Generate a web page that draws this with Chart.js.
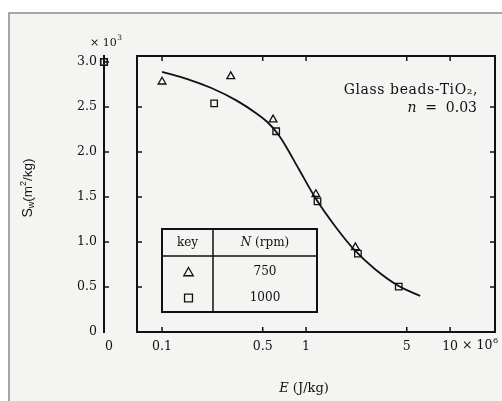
<!DOCTYPE html>
<html>
<head>
<meta charset="utf-8">
<script src="https://cdn.jsdelivr.net/npm/chart.js@4/dist/chart.umd.min.js"></script>
<style>
  html, body { margin: 0; padding: 0; background: #ffffff; }
  #wrap { width: 502px; height: 401px; }
</style>
</head>
<body>
<div id="wrap"><canvas id="c" width="502" height="401"></canvas></div>
<script>
// ---- data (E in J/kg x10^6 on log axis, Sw in m2/kg x10^3) ----
const triE = [0.1, 0.30, 0.59, 1.17, 2.2];
const triS = [2.78, 2.84, 2.36, 1.53, 0.94];
const sqE = [0.23, 0.62, 1.2, 2.29, 4.4];
const sqS = [2.54, 2.23, 1.45, 0.87, 0.505];
const sqZeroE = [0];
const sqZeroS = [3.0];
const curveE = [0.1, 0.15, 0.22, 0.33, 0.45, 0.54, 0.63, 0.72, 0.89, 1.17, 1.6, 2.2, 3.0, 4.4, 6.2];
const curveS = [2.89, 2.81, 2.71, 2.57, 2.43, 2.33, 2.21, 2.07, 1.81, 1.48, 1.17, 0.90, 0.70, 0.51, 0.40];
const xTicks = [0.1, 0.5, 1, 5, 10];
const xTickLabels = ['0.1', '0.5', '1', '5', '10'];
const xMultiplier = ['\u00d7 10', '6'];
const x0Ticks = [0];
const x0TickLabels = ['0'];
const yTicks = [0, 0.5, 1.0, 1.5, 2.0, 2.5, 3.0];
const yTickLabels = ['0', '0.5', '1.0', '1.5', '2.0', '2.5', '3.0'];
const yMultiplier = ['\u00d7 10', '3'];
const legendRows = ['750', '1000'];

const INK = '#111111';
const BG = '#f4f4f2';
const SERIF = '"DejaVu Serif", "Liberation Serif", serif';
const SANS = '"Liberation Sans", Arial, sans-serif';

function pts(xs, ys) { return xs.map((x, i) => ({x: x, y: ys[i]})); }

function marker(ctx, style, r, mx, my) {
  ctx.beginPath();
  if (style === 'triangle') {
    ctx.moveTo(mx, my - r); ctx.lineTo(mx + r * 0.866, my + r / 2); ctx.lineTo(mx - r * 0.866, my + r / 2); ctx.closePath();
  } else {
    const s = r / Math.SQRT2;
    ctx.rect(mx - s, my - s, 2 * s, 2 * s);
  }
  ctx.stroke();
}

const decor = {
  id: 'decor',
  beforeDraw(chart) {
    const ctx = chart.ctx;
    ctx.save();
    ctx.fillStyle = '#ffffff';
    ctx.fillRect(0, 0, chart.width, chart.height);
    ctx.fillStyle = BG;
    ctx.fillRect(9, 13, chart.width - 9, chart.height - 13);
    ctx.strokeStyle = '#8a8a8a';
    ctx.lineWidth = 1.5;
    ctx.beginPath();
    ctx.moveTo(9, chart.height); ctx.lineTo(9, 13); ctx.lineTo(chart.width, 13);
    ctx.stroke();
    ctx.restore();
  },
  afterDraw(chart) {
    const ctx = chart.ctx;
    const xs = chart.scales.x, ys = chart.scales.y, x0 = chart.scales.x0;
    const L = xs.left, R = xs.right, T = ys.top, B = ys.bottom;
    const tk = 5;
    ctx.save();
    ctx.strokeStyle = INK;
    ctx.lineWidth = 2;
    // plot frame (left, top, right)
    ctx.beginPath();
    ctx.moveTo(L, B); ctx.lineTo(L, T); ctx.lineTo(R, T); ctx.lineTo(R, B);
    ctx.stroke();
    // inward ticks
    ctx.lineWidth = 1.5;
    ctx.beginPath();
    xTicks.forEach(v => {
      const px = xs.getPixelForValue(v);
      ctx.moveTo(px, T); ctx.lineTo(px, T + tk);
      ctx.moveTo(px, B); ctx.lineTo(px, B - tk);
    });
    yTicks.forEach(v => {
      if (v <= 0) return;
      const py = ys.getPixelForValue(v);
      const ax = x0.getPixelForValue(0);
      ctx.moveTo(ax, py); ctx.lineTo(ax + tk, py);
      if (v < 3) {
        ctx.moveTo(L, py); ctx.lineTo(L + tk, py);
        ctx.moveTo(R, py); ctx.lineTo(R - tk, py);
      }
    });
    ctx.stroke();
    ctx.fillStyle = INK;
    ctx.textBaseline = 'middle';
    ctx.textAlign = 'left';
    // multiplier of y axis
    ctx.font = '11px ' + SERIF;
    ctx.fillText(yMultiplier[0], 90, 43);
    const wy = ctx.measureText(yMultiplier[0]).width;
    ctx.font = '7.5px ' + SERIF;
    ctx.fillText(yMultiplier[1], 90 + wy + 0.5, 38);
    // multiplier of x axis, after the last tick label
    ctx.font = '12.5px ' + SERIF;
    const lastPx = xs.getPixelForValue(xTicks[xTicks.length - 1]);
    const wl = ctx.measureText(xTickLabels[xTickLabels.length - 1]).width;
    const mx0 = lastPx + wl / 2 + 4;
    ctx.fillText(xMultiplier[0], mx0, 346);
    const wm = ctx.measureText(xMultiplier[0]).width;
    ctx.font = '8px ' + SERIF;
    ctx.fillText(xMultiplier[1], mx0 + wm + 0.5, 341);
    // y title (rotated) with subscript
    ctx.save();
    ctx.translate(28, 188);
    ctx.rotate(-Math.PI / 2);
    ctx.textBaseline = 'middle';
    const parts = [['S', '14px ' + SANS, 0], ['w', '9px ' + SANS, 4], ['(m', '13.5px ' + SANS, 0], ['2', '9px ' + SANS, -4], ['/kg)', '13.5px ' + SANS, 0]];
    let tw = 0;
    parts.forEach(p => { ctx.font = p[1]; tw += ctx.measureText(p[0]).width; });
    let cx = -tw / 2;
    parts.forEach(p => { ctx.font = p[1]; ctx.fillText(p[0], cx, p[2]); cx += ctx.measureText(p[0]).width; });
    ctx.restore();
    // annotation
    ctx.textAlign = 'right';
    ctx.font = '14px ' + SERIF;
    if ('letterSpacing' in ctx) ctx.letterSpacing = '0.6px';
    ctx.fillText('Glass beads-TiO\u2082,', 478, 90);
    if ('letterSpacing' in ctx) ctx.letterSpacing = '0px';
    ctx.fillText('0.03', 477, 108);
    ctx.textAlign = 'center';
    ctx.fillText('=', 431, 108);
    ctx.font = 'italic 14px ' + SERIF;
    ctx.fillText('n', 412, 108);
    // x title
    ctx.textAlign = 'left';
    ctx.font = '13px ' + SERIF;
    const rest = ' (J/kg)';
    const wr = ctx.measureText(rest).width;
    ctx.font = 'italic 13px ' + SERIF;
    const we = ctx.measureText('E').width;
    const sx = 304 - (wr + we) / 2;
    ctx.fillText('E', sx, 389);
    ctx.font = '13px ' + SERIF;
    ctx.fillText(rest, sx + we, 389);
    // legend table
    const tl = 162, tr = 317, tt = 229, tb = 312, tv = 213, th = 256;
    ctx.fillStyle = BG;
    ctx.fillRect(tl, tt, tr - tl, tb - tt);
    ctx.strokeStyle = INK;
    ctx.lineWidth = 2;
    ctx.strokeRect(tl, tt, tr - tl, tb - tt);
    ctx.lineWidth = 1.5;
    ctx.beginPath();
    ctx.moveTo(tv, tt); ctx.lineTo(tv, tb);
    ctx.moveTo(tl, th); ctx.lineTo(tr, th);
    ctx.stroke();
    ctx.fillStyle = INK;
    ctx.textAlign = 'center';
    ctx.font = '12px ' + SERIF;
    ctx.fillText('key', (tl + tv) / 2, 243);
    const hr = ' (rpm)';
    const whr = ctx.measureText(hr).width;
    ctx.font = 'italic 12px ' + SERIF;
    const wn = ctx.measureText('N').width;
    const hx = (tv + tr) / 2 - (whr + wn) / 2;
    ctx.textAlign = 'left';
    ctx.fillText('N', hx, 243);
    ctx.font = '12px ' + SERIF;
    ctx.fillText(hr, hx + wn, 243);
    ctx.textAlign = 'center';
    const rowY = [272, 298];
    const dsIdx = [1, 2];
    legendRows.forEach((lab, i) => {
      ctx.fillText(lab, (tv + tr) / 2, rowY[i]);
      const ds = chart.data.datasets[dsIdx[i]];
      ctx.strokeStyle = INK;
      ctx.lineWidth = 1.3;
      marker(ctx, ds.pointStyle, ds.pointRadius + 1, (tl + tv) / 2 + 1, rowY[i] + (ds.pointStyle === 'triangle' ? 1 : 0));
    });
    ctx.restore();
  }
};

const tickFont = {family: SERIF, size: 12.5};

new Chart(document.getElementById('c'), {
  data: {
    datasets: [
      {type: 'line', data: pts(curveE, curveS), xAxisID: 'x', yAxisID: 'y', borderColor: INK, borderWidth: 1.8, pointRadius: 0, cubicInterpolationMode: 'monotone', fill: false},
      {type: 'scatter', data: pts(triE, triS), xAxisID: 'x', yAxisID: 'y', pointStyle: 'triangle', pointRadius: 4.5, borderWidth: 1.3, borderColor: INK, backgroundColor: 'rgba(0,0,0,0)'},
      {type: 'scatter', data: pts(sqE, sqS), xAxisID: 'x', yAxisID: 'y', pointStyle: 'rect', pointRadius: 4.6, borderWidth: 1.3, borderColor: INK, backgroundColor: 'rgba(0,0,0,0)'},
      {type: 'scatter', data: pts(sqZeroE, sqZeroS), xAxisID: 'x0', yAxisID: 'y', pointStyle: 'rect', pointRadius: 4.6, borderWidth: 1.6, borderColor: INK, backgroundColor: 'rgba(0,0,0,0)', clip: false}
    ]
  },
  options: {
    responsive: false,
    animation: false,
    events: [],
    layout: {padding: {top: 56, right: 7, left: 0, bottom: 0}},
    plugins: {legend: {display: false}, tooltip: {enabled: false}},
    scales: {
      x0: {
        type: 'linear', position: 'bottom', stack: 'xs', stackWeight: 33,
        min: 0, max: 1,
        afterBuildTicks: s => { s.ticks = x0Ticks.map(v => ({value: v})); },
        afterFit: s => { s.height = 69; },
        grid: {display: false},
        border: {display: false},
        ticks: {font: tickFont, color: INK, padding: -1, labelOffset: 5, maxRotation: 0, autoSkip: false,
                callback: (v, i) => x0TickLabels[i]}
      },
      x: {
        type: 'logarithmic', position: 'bottom', stack: 'xs', stackWeight: 358,
        min: 0.067, max: 20.5,
        afterBuildTicks: s => { s.ticks = xTicks.map(v => ({value: v})); },
        afterFit: s => { s.height = 69; },
        grid: {drawOnChartArea: false, drawTicks: false},
        border: {display: true, color: INK, width: 2},
        ticks: {font: tickFont, color: INK, padding: 7, maxRotation: 0, autoSkip: false,
                callback: (v, i) => xTickLabels[i]}
      },
      y: {
        type: 'linear', position: 'left',
        min: 0, max: 3.066,
        afterBuildTicks: s => { s.ticks = yTicks.map(v => ({value: v})); },
        afterFit: s => { s.width = 104; },
        grid: {drawOnChartArea: false, drawTicks: false},
        border: {display: true, color: INK, width: 2},
        ticks: {font: tickFont, color: INK, padding: 7, autoSkip: false,
                callback: (v, i) => yTickLabels[i]}
      }
    }
  },
  plugins: [decor]
});
</script>
</body>
</html>
